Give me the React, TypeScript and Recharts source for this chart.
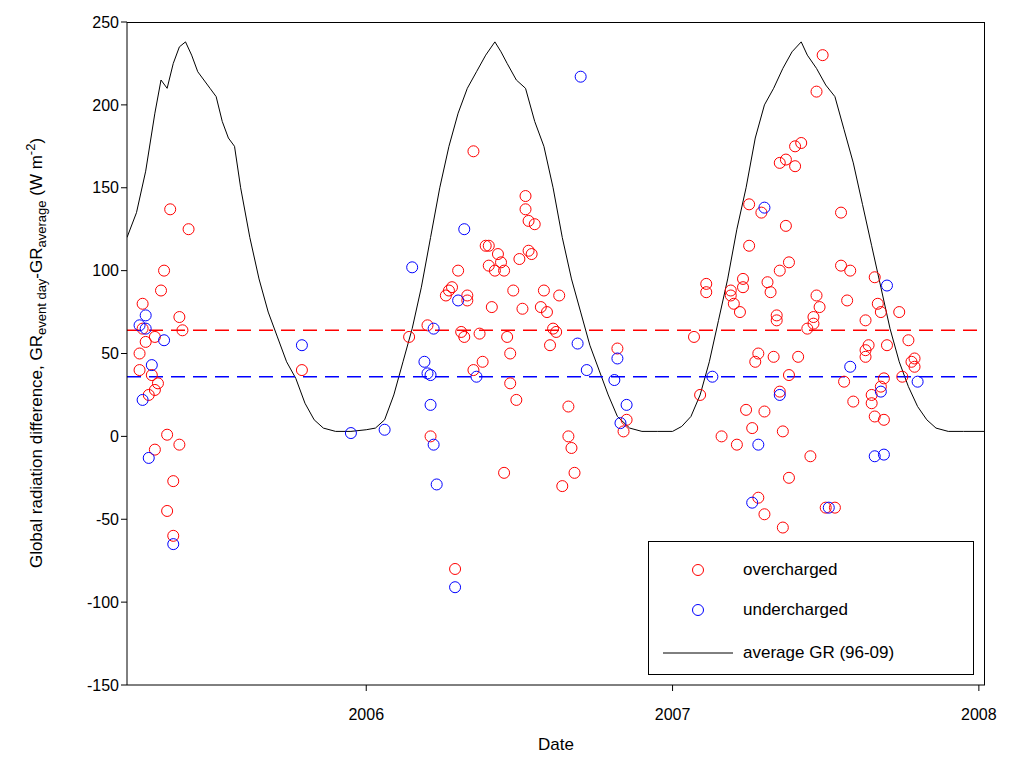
import React from "react";
import {
  ComposedChart,
  Line,
  Scatter,
  XAxis,
  YAxis,
  ReferenceLine,
} from "recharts";

const X_TICKS = [2006, 2007, 2008];
const Y_TICKS = [-150, -100, -50, 0, 50, 100, 150, 200, 250];
const RED_MEAN = 64;
const BLUE_MEAN = 36;

// average GR (96-09): [date, value]
const AVG_GR: [number, number][] = [
  [2005.219, 120], [2005.25, 135], [2005.28, 160], [2005.31, 195], [2005.33, 215], [2005.35, 210],
  [2005.37, 225], [2005.39, 235], [2005.41, 238], [2005.43, 230], [2005.45, 220], [2005.47, 215],
  [2005.49, 210], [2005.51, 205], [2005.53, 190], [2005.55, 180], [2005.57, 175], [2005.59, 150],
  [2005.62, 120], [2005.65, 95], [2005.68, 75], [2005.71, 60], [2005.74, 45], [2005.77, 35],
  [2005.8, 20], [2005.83, 10], [2005.86, 5], [2005.9, 3], [2005.95, 3], [2006.0, 4],
  [2006.03, 5], [2006.06, 10], [2006.09, 25], [2006.12, 45], [2006.15, 65], [2006.18, 90],
  [2006.21, 120], [2006.24, 150], [2006.27, 175], [2006.3, 195], [2006.33, 210], [2006.36, 220],
  [2006.39, 230], [2006.42, 238], [2006.44, 232], [2006.46, 225], [2006.49, 215], [2006.52, 210],
  [2006.55, 190], [2006.58, 175], [2006.61, 150], [2006.64, 120], [2006.67, 95], [2006.7, 75],
  [2006.73, 55], [2006.76, 40], [2006.79, 25], [2006.82, 12], [2006.86, 5], [2006.9, 3],
  [2006.95, 3], [2007.0, 3], [2007.03, 6], [2007.06, 12], [2007.09, 25], [2007.12, 45],
  [2007.15, 70], [2007.18, 95], [2007.21, 125], [2007.24, 150], [2007.27, 180], [2007.3, 200],
  [2007.33, 210], [2007.36, 222], [2007.39, 232], [2007.42, 238], [2007.44, 230], [2007.47, 222],
  [2007.5, 212], [2007.53, 205], [2007.56, 185], [2007.59, 165], [2007.62, 140], [2007.65, 115],
  [2007.68, 90], [2007.71, 65], [2007.74, 45], [2007.77, 30], [2007.8, 18], [2007.83, 10],
  [2007.86, 5], [2007.9, 3], [2007.95, 3], [2008.02, 3],
];

const OVERCHARGED: [number, number][] = [
  [2005.27, 80], [2005.27, 65], [2005.28, 57], [2005.26, 50], [2005.26, 40], [2005.31, 60],
  [2005.3, 37], [2005.29, 25], [2005.31, 28], [2005.32, 32], [2005.31, -8], [2005.33, 88],
  [2005.34, 100], [2005.36, 137], [2005.35, 1], [2005.35, -45], [2005.37, -27], [2005.37, -60],
  [2005.39, 72], [2005.4, 64], [2005.39, -5], [2005.42, 125], [2005.79, 40], [2006.14, 60],
  [2006.2, 67], [2006.21, 0], [2006.26, 85], [2006.27, 88], [2006.28, 90], [2006.29, -80],
  [2006.3, 100], [2006.31, 63], [2006.32, 60], [2006.33, 85], [2006.33, 82], [2006.35, 172],
  [2006.35, 40], [2006.37, 62], [2006.38, 45], [2006.39, 115], [2006.4, 115], [2006.4, 103],
  [2006.41, 78], [2006.42, 100], [2006.43, 110], [2006.44, 105], [2006.45, -22], [2006.45, 100],
  [2006.46, 60], [2006.47, 50], [2006.47, 32], [2006.48, 88], [2006.49, 22], [2006.5, 107],
  [2006.51, 77], [2006.52, 145], [2006.52, 137], [2006.53, 130], [2006.53, 112], [2006.54, 110],
  [2006.55, 128], [2006.57, 78], [2006.58, 88], [2006.59, 75], [2006.6, 55], [2006.61, 65],
  [2006.62, 63], [2006.63, 85], [2006.64, -30], [2006.66, 18], [2006.66, 0], [2006.67, -7],
  [2006.68, -22], [2006.82, 53], [2006.84, 3], [2006.85, 10], [2007.07, 60], [2007.09, 25],
  [2007.11, 92], [2007.11, 87], [2007.16, 0], [2007.19, 88], [2007.19, 85], [2007.2, 80],
  [2007.21, -5], [2007.22, 75], [2007.23, 95], [2007.23, 90], [2007.24, 16], [2007.25, 115],
  [2007.25, 140], [2007.26, 5], [2007.27, 45], [2007.28, -37], [2007.28, 50], [2007.29, 135],
  [2007.3, 15], [2007.3, -47], [2007.31, 93], [2007.32, 87], [2007.33, 48], [2007.34, 73],
  [2007.34, 70], [2007.35, 165], [2007.35, 27], [2007.35, 100], [2007.36, -55], [2007.36, 3],
  [2007.37, 167], [2007.37, 127], [2007.38, 105], [2007.38, 37], [2007.38, -25], [2007.4, 175],
  [2007.4, 163], [2007.41, 48], [2007.42, 177], [2007.44, 65], [2007.45, -12], [2007.46, 68],
  [2007.46, 72], [2007.47, 208], [2007.47, 85], [2007.48, 78], [2007.49, 230], [2007.5, -43],
  [2007.53, -43], [2007.55, 135], [2007.55, 103], [2007.56, 33], [2007.57, 82], [2007.58, 100],
  [2007.59, 21], [2007.63, 70], [2007.63, 52], [2007.63, 48], [2007.64, 55], [2007.65, 25],
  [2007.65, 20], [2007.66, 12], [2007.66, 96], [2007.67, 80], [2007.68, 30], [2007.68, 75],
  [2007.69, 35], [2007.69, 10], [2007.7, 55], [2007.74, 75], [2007.75, 36], [2007.77, 58],
  [2007.78, 45], [2007.79, 42], [2007.79, 47],
];

const UNDERCHARGED: [number, number][] = [
  [2005.26, 67], [2005.27, 22], [2005.28, 73], [2005.28, 65], [2005.29, -13], [2005.3, 43],
  [2005.34, 58], [2005.37, -65], [2005.79, 55], [2005.95, 2], [2006.06, 4], [2006.15, 102],
  [2006.19, 45], [2006.2, 38], [2006.21, 37], [2006.21, 19], [2006.22, -5], [2006.23, -29],
  [2006.22, 65], [2006.29, -91], [2006.3, 82], [2006.32, 125], [2006.36, 36], [2006.7, 217],
  [2006.69, 56], [2006.72, 40], [2006.81, 34], [2006.82, 47], [2006.83, 8], [2006.85, 19],
  [2007.13, 36], [2007.26, -40], [2007.28, -5], [2007.3, 138], [2007.35, 25], [2007.51, -43],
  [2007.58, 42], [2007.66, -12], [2007.68, 27], [2007.69, -11], [2007.7, 91], [2007.8, 33],
];

const toRows = (pts: [number, number][]) => pts.map(([x, y]) => ({ x, y }));

const ring = (color: string) => (p: any) => (
  <circle cx={p.cx} cy={p.cy} r={5.5} fill="none" stroke={color} strokeWidth={1} />
);

const FONT = "'Liberation Sans', Arial, sans-serif";

const YLabel = () => (
  <text x={42} y={353} transform="rotate(-90 42 353)" textAnchor="middle" fontSize={17} fontFamily={FONT} fill="#000">
    Global radiation difference, GR
    <tspan fontSize={13} dy={4}>event day</tspan>
    <tspan dy={-4}>-GR</tspan>
    <tspan fontSize={13} dy={4}>average</tspan>
    <tspan dy={-4}> (W m</tspan>
    <tspan fontSize={13} dy={-7}>-2</tspan>
    <tspan dy={7}>)</tspan>
  </text>
);

export default function App() {
  const tick = { fontSize: 16, fill: "#000", fontFamily: FONT };
  return (
    <div style={{ position: "relative", width: 1014, height: 758, margin: -8, background: "#fff" }}>
      <ComposedChart width={1014} height={758} margin={{ top: 22, right: 29, bottom: 43, left: 0 }}>
        <XAxis
          dataKey="x"
          type="number"
          domain={[2005.219, 2008.02]}
          ticks={X_TICKS}
          allowDataOverflow
          tick={tick}
          stroke="#000"
          height={30}
          tickSize={6}
          tickMargin={18}
        />
        <YAxis
          dataKey="y"
          type="number"
          domain={[-150, 250]}
          ticks={Y_TICKS}
          interval={0}
          tick={tick}
          stroke="#000"
          width={127}
          tickSize={6}
          label={<YLabel />}
        />
        <Line
          data={toRows(AVG_GR)}
          dataKey="y"
          type="linear"
          stroke="#000"
          strokeWidth={1}
          dot={false}
          isAnimationActive={false}
        />
        <Scatter data={toRows(OVERCHARGED)} dataKey="y" shape={ring("#ff0000")} isAnimationActive={false} />
        <Scatter data={toRows(UNDERCHARGED)} dataKey="y" shape={ring("#0000ff")} isAnimationActive={false} />
        <ReferenceLine y={RED_MEAN} stroke="#ff0000" strokeWidth={1.5} strokeDasharray="14 8" />
        <ReferenceLine y={BLUE_MEAN} stroke="#0000ff" strokeWidth={1.5} strokeDasharray="14 8" />
      </ComposedChart>
      <div
        style={{
          position: "absolute", left: 127, top: 22, width: 858, height: 663,
          boxSizing: "border-box", borderTop: "1px solid #000", borderRight: "1px solid #000",
          pointerEvents: "none",
        }}
      />
      <div
        style={{
          position: "absolute", left: 0, width: 1112, top: 734, textAlign: "center",
          fontFamily: FONT, fontSize: 17, lineHeight: "22px",
        }}
      >
        Date
      </div>
      <div
        style={{
          position: "absolute", left: 648, top: 541, width: 324, height: 132,
          border: "1px solid #000", background: "#fff", fontFamily: FONT, fontSize: 17,
        }}
      >
        {[
          { label: "overcharged", kind: "o", color: "#ff0000", top: 18 },
          { label: "undercharged", kind: "o", color: "#0000ff", top: 58 },
          { label: "average GR (96-09)", kind: "l", color: "#000", top: 101 },
        ].map((r) => (
          <div key={r.label} style={{ position: "absolute", left: 0, top: r.top, height: 20, width: "100%" }}>
            <svg width={80} height={20} style={{ position: "absolute", left: 10, top: 0 }}>
              {r.kind === "o" ? (
                <circle cx={39} cy={10} r={5.5} fill="none" stroke={r.color} />
              ) : (
                <line x1={4} x2={74} y1={10} y2={10} stroke={r.color} />
              )}
            </svg>
            <span style={{ position: "absolute", left: 94, top: 0, lineHeight: "20px" }}>{r.label}</span>
          </div>
        ))}
      </div>
    </div>
  );
}
